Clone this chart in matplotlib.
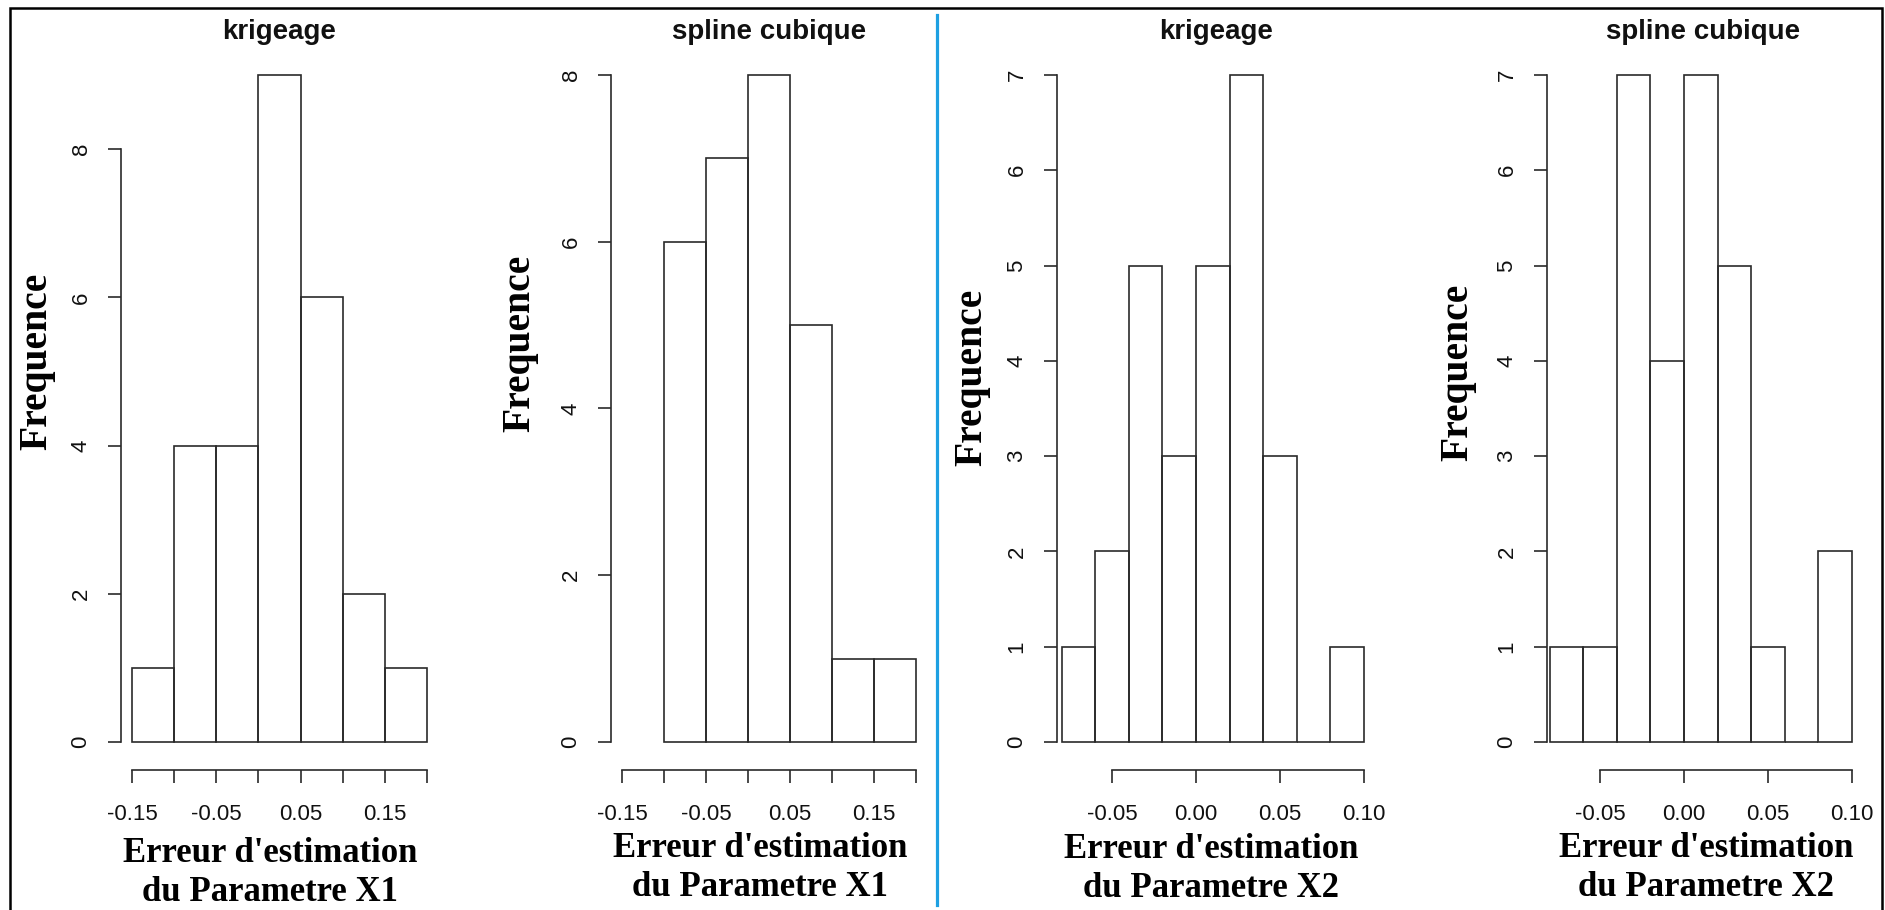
import matplotlib
matplotlib.use("Agg")
import matplotlib.pyplot as plt
from matplotlib.lines import Line2D

# ---------------- data ----------------
titles = ["krigeage", "spline cubique", "krigeage", "spline cubique"]
xlabels = ["Erreur d'estimation\ndu Parametre X1",
           "Erreur d'estimation\ndu Parametre X1",
           "Erreur d'estimation\ndu Parametre X2",
           "Erreur d'estimation\ndu Parametre X2"]
ylabel = "Frequence"

edges_krig_x1 = [-0.15, -0.10, -0.05, 0.00, 0.05, 0.10, 0.15, 0.20]
counts_krig_x1 = [1, 4, 4, 9, 6, 2, 1]

edges_spline_x1 = [-0.10, -0.05, 0.00, 0.05, 0.10, 0.15, 0.20]
counts_spline_x1 = [6, 7, 8, 5, 1, 1]

edges_x2 = [-0.08, -0.06, -0.04, -0.02, 0.00, 0.02, 0.04, 0.06, 0.08, 0.10]
counts_krig_x2 = [1, 2, 5, 3, 5, 7, 3, 0, 1]
counts_spline_x2 = [1, 1, 7, 4, 7, 5, 1, 0, 2]

xticks_x1 = [-0.15, -0.10, -0.05, 0.00, 0.05, 0.10, 0.15, 0.20]
xticklabels_x1 = ["-0.15", "", "-0.05", "", "0.05", "", "0.15", ""]
xticks_x2 = [-0.05, 0.00, 0.05, 0.10]
xticklabels_x2 = ["-0.05", "0.00", "0.05", "0.10"]
yticks_9 = [0, 2, 4, 6, 8]
yticks_8 = [0, 2, 4, 6, 8]
yticks_7 = [0, 1, 2, 3, 4, 5, 6, 7]

panels = [
    dict(edges=edges_krig_x1, counts=counts_krig_x1, xt=xticks_x1, xtl=xticklabels_x1, yt=yticks_9),
    dict(edges=edges_spline_x1, counts=counts_spline_x1, xt=xticks_x1, xtl=xticklabels_x1, yt=yticks_8),
    dict(edges=edges_x2, counts=counts_krig_x2, xt=xticks_x2, xtl=xticklabels_x2, yt=yticks_7),
    dict(edges=edges_x2, counts=counts_spline_x2, xt=xticks_x2, xtl=xticklabels_x2, yt=yticks_7),
]

# ---------------- layout (pixels) ----------------
W, H = 1885, 910
layout = [
    dict(left=121, right=438, xlim=(-0.163, 0.213), ylim=(-0.378, 9.364),
         ylab=(37, 361), xlab=(270, 837)),
    dict(left=611, right=927, xlim=(-0.163, 0.2132), ylim=(-0.336, 8.324),
         ylab=(520, 343), xlab=(760, 832)),
    dict(left=1057, right=1375, xlim=(-0.0827, 0.1066), ylim=(-0.294, 7.283),
         ylab=(972, 377), xlab=(1211, 833)),
    dict(left=1547, right=1859, xlim=(-0.0815, 0.1042), ylim=(-0.294, 7.283),
         ylab=(1458, 372), xlab=(1706, 832)),
]
TOP, BOTTOM = 48, 770

LINE = "#2a2a2a"
SANS = "Liberation Sans"
SERIF = "Liberation Serif"

fig = plt.figure(figsize=(W / 100, H / 100), dpi=100)
fig.patch.set_facecolor("white")

for p, L in zip(panels, layout):
    ax = fig.add_axes([L["left"] / W, 1 - BOTTOM / H,
                       (L["right"] - L["left"]) / W, (BOTTOM - TOP) / H])
    ax.set_facecolor("none")
    e = p["edges"]
    widths = [e[i + 1] - e[i] for i in range(len(e) - 1)]
    ax.bar(e[:-1], p["counts"], width=widths, align="edge", fill=False,
           edgecolor=LINE, linewidth=1.2)
    ax.set_xlim(*L["xlim"])
    ax.set_ylim(*L["ylim"])
    for s in ("top", "right"):
        ax.spines[s].set_visible(False)
    for s in ("left", "bottom"):
        ax.spines[s].set_color(LINE)
        ax.spines[s].set_linewidth(1.2)
    ax.spines["left"].set_bounds(p["yt"][0], p["yt"][-1])
    ax.spines["bottom"].set_bounds(p["xt"][0], p["xt"][-1])

    ax.set_xticks(p["xt"])
    ax.set_xticklabels(p["xtl"], fontfamily=SANS, fontsize=16)
    ax.set_yticks(p["yt"])
    ax.set_yticklabels([str(v) for v in p["yt"]], fontfamily=SANS, fontsize=16,
                       rotation=90, ha="center", va="center")
    ax.tick_params(axis="x", length=9, width=1.2, color=LINE, pad=15.5, labelcolor="#111111")
    ax.tick_params(axis="y", length=9.4, width=1.2, color=LINE, pad=19.4, labelcolor="#111111")

    ax.set_title(p.get("title", ""), pad=0)

    # titles
for ax, t, xl, L in zip(fig.axes, titles, xlabels, layout):
    ax.set_title(t, fontfamily=SANS, fontsize=20, fontweight="bold", pad=6.5, color="#111111")
    ax.set_xlabel(xl, fontfamily=SERIF, fontsize=25, fontweight="bold",
                  linespacing=1.25, va="top", ha="center")
    wpx = L["right"] - L["left"]
    ax.xaxis.set_label_coords((L["xlab"][0] - L["left"]) / wpx,
                              (BOTTOM - L["xlab"][1]) / (BOTTOM - TOP))
    ax.set_ylabel(ylabel, fontfamily=SERIF, fontsize=28.5, fontweight="bold",
                  va="center", ha="center")
    ax.yaxis.set_label_coords((L["ylab"][0] - L["left"]) / wpx,
                              (BOTTOM - L["ylab"][1]) / (BOTTOM - TOP))

# blue separator
fig.add_artist(Line2D([937 / W, 937 / W], [1 - 15 / H, 1 - 905 / H],
                      color="#1ea0e2", linewidth=2.3))
# outer frame (left, top, right)
fig.add_artist(Line2D([10 / W, 10 / W, 1882 / W, 1882 / W],
                      [-0.01, 1 - 8 / H, 1 - 8 / H, -0.01],
                      color="black", linewidth=1.8, solid_joinstyle="miter"))

fig.savefig("out.png", dpi=100, facecolor="white")
